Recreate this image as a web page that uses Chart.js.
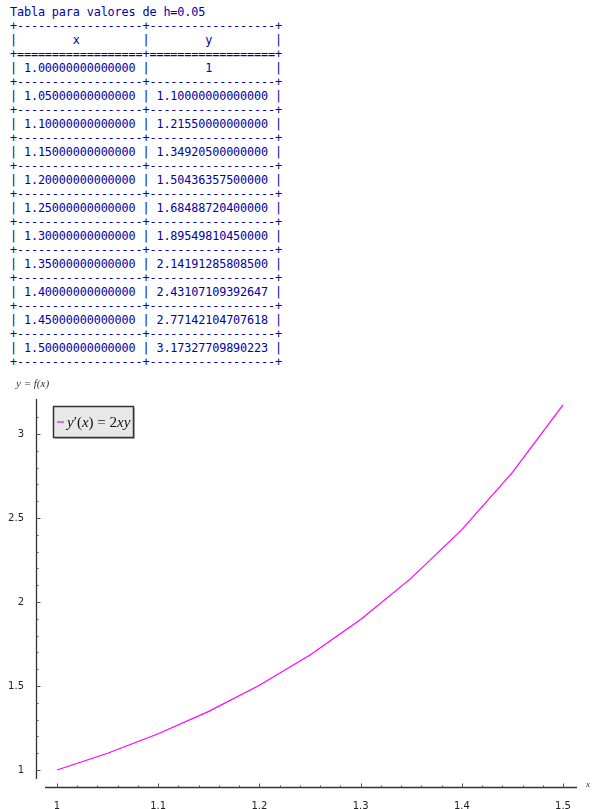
<!DOCTYPE html>
<html>
<head>
<meta charset="utf-8">
<script src="https://cdn.jsdelivr.net/npm/chart.js@4/dist/chart.umd.min.js"></script>
<style>
  html, body { margin: 0; padding: 0; background: #fff; }
  body { width: 603px; height: 809px; position: relative; overflow: hidden; }
  #tabla {
    position: absolute; left: 10px; top: 5px; margin: 0;
    font-family: "DejaVu Sans Mono", monospace; font-size: 11.8px; line-height: 14px;
    letter-spacing: -0.13px;
    color: #0000aa;
  }
  #wrap { position: absolute; left: 0; top: 375px; width: 603px; height: 434px; }
</style>
</head>
<body>
<pre id="tabla"></pre>
<div id="wrap"><canvas id="grafico"></canvas></div>
<script>
// valores de la tabla (h = 0.05)
const titulo = "Tabla para valores de h=0.05";
const xTexto = ["1.00000000000000", "1.05000000000000", "1.10000000000000", "1.15000000000000",
  "1.20000000000000", "1.25000000000000", "1.30000000000000", "1.35000000000000",
  "1.40000000000000", "1.45000000000000", "1.50000000000000"];
const yTexto = ["1", "1.10000000000000", "1.21550000000000", "1.34920500000000",
  "1.50436357500000", "1.68488720400000", "1.89549810450000", "2.14191285808500",
  "2.43107109392647", "2.77142104707618", "3.17327709890223"];

const xTicks = [1, 1.1, 1.2, 1.3, 1.4, 1.5];
const yTicks = [1, 1.5, 2, 2.5, 3];
const leyenda = "y'(x) = 2xy";

// --- tabla de texto ---
function centrar(s, n) {
  const izq = Math.floor((n - s.length) / 2);
  return " ".repeat(izq) + s + " ".repeat(n - s.length - izq);
}
const borde = "+" + "-".repeat(18) + "+" + "-".repeat(18) + "+";
const bordeDoble = "+" + "=".repeat(18) + "+" + "=".repeat(18) + "+";
let lineas = [titulo, borde, "|" + centrar("x", 18) + "|" + centrar("y", 18) + "|", bordeDoble];
for (let i = 0; i < xTexto.length; i++) {
  lineas.push("|" + centrar(xTexto[i], 18) + "|" + centrar(yTexto[i], 18) + "|");
  lineas.push(borde);
}
document.getElementById("tabla").textContent = lineas.join("\n");

// --- grafico ---
const puntos = xTexto.map((x, i) => ({ x: parseFloat(x), y: parseFloat(yTexto[i]) }));

const ejesSage = {
  id: "ejesSage",
  afterDraw(chart) {
    const { ctx, chartArea: a, scales } = chart;
    const sx = scales.x, sy = scales.y;
    const ax = a.left + 0.5, ay = Math.round(a.bottom) - 0.5;
    ctx.save();
    ctx.strokeStyle = "#333";
    ctx.lineWidth = 1.3;
    ctx.beginPath();
    ctx.moveTo(ax, a.top); ctx.lineTo(ax, a.bottom - 9);
    ctx.moveTo(a.left + 9, ay); ctx.lineTo(a.right, ay);
    ctx.stroke();

    ctx.lineWidth = 1;
    ctx.strokeStyle = "#555";
    ctx.beginPath();
    // y: mayores y menores
    for (let k = 0; k <= 22; k++) {
      const v = 1 + (k - 1) * 0.1;
      const p = Math.round(sy.getPixelForValue(v)) + 0.5;
      if (p < a.top || p > a.bottom - 9) continue;
      const mayor = yTicks.some(t => Math.abs(t - v) < 1e-6);
      ctx.moveTo(ax, p); ctx.lineTo(ax + (mayor ? 4 : 2), p);
    }
    // x: mayores y menores
    for (let k = 0; k <= 26; k++) {
      const v = 1 + k * 0.02;
      const p = Math.round(sx.getPixelForValue(v)) + 0.5;
      if (p > a.right) continue;
      const mayor = xTicks.some(t => Math.abs(t - v) < 1e-6);
      ctx.moveTo(p, ay); ctx.lineTo(p, ay - (mayor ? 4 : 2));
    }
    ctx.stroke();

    // etiquetas de los ejes
    ctx.fillStyle = "#333";
    ctx.font = "italic 11px 'Liberation Serif', serif";
    ctx.textBaseline = "middle";
    ctx.fillText("y = f(x)", 16, a.top - 15);
    ctx.font = "italic 9px 'Liberation Serif', serif";
    ctx.fillText("x", a.right + 9, ay - 3);

    // leyenda
    const lx = a.left + 17, ly = a.top + 7;
    ctx.fillStyle = "rgba(0,0,0,0.25)";
    ctx.fillRect(lx + 2, ly + 2, 80, 31);
    ctx.fillStyle = "#e8e8e8";
    ctx.fillRect(lx, ly, 80, 31);
    ctx.strokeStyle = "#333";
    ctx.lineWidth = 1.5;
    ctx.strokeRect(lx + 0.5, ly + 0.5, 80, 31);
    ctx.strokeStyle = "#ff00ff";
    ctx.lineWidth = 1.2;
    ctx.beginPath();
    ctx.moveTo(lx + 4, ly + 16); ctx.lineTo(lx + 11, ly + 16);
    ctx.stroke();
    ctx.fillStyle = "#111";
    ctx.textBaseline = "alphabetic";
    const partes = [["y", true], ["\u2032(", false], ["x", true], [") = 2", false], ["xy", true]];
    let px = lx + 14;
    for (const [t, it] of partes) {
      ctx.font = (it ? "italic " : "") + "15px 'Liberation Serif', serif";
      ctx.fillText(t, px, ly + 21);
      px += ctx.measureText(t).width;
    }
    ctx.restore();
  }
};

new Chart(document.getElementById("grafico"), {
  type: "scatter",
  data: {
    datasets: [{
      label: leyenda,
      data: puntos,
      showLine: true,
      borderColor: "#ff00ff",
      borderWidth: 1.2,
      pointRadius: 0,
      fill: false,
      tension: 0
    }]
  },
  options: {
    responsive: true,
    maintainAspectRatio: false,
    animation: false,
    layout: { padding: { left: 0, top: 24, right: 26, bottom: 0 } },
    plugins: { legend: { display: false }, tooltip: { enabled: false } },
    scales: {
      x: {
        type: "linear",
        min: 0.97925,
        max: 1.5138,
        grid: { display: false },
        border: { display: false },
        afterBuildTicks: s => { s.ticks = xTicks.map(v => ({ value: v })); },
        afterFit: s => { s.height = 21; },
        ticks: {
          padding: 4,
          color: "#222",
          font: { family: "'DejaVu Sans', sans-serif", size: 10 },
          callback: v => String(+v.toFixed(2))
        }
      },
      y: {
        type: "linear",
        min: 0.8929,
        max: 3.2083,
        grid: { display: false },
        border: { display: false },
        afterBuildTicks: s => { s.ticks = yTicks.map(v => ({ value: v })); },
        afterFit: s => { s.width = 36; },
        ticks: {
          padding: 4,
          color: "#222",
          font: { family: "'DejaVu Sans', sans-serif", size: 10 },
          callback: v => String(+v.toFixed(2))
        }
      }
    }
  },
  plugins: [ejesSage]
});
</script>
</body>
</html>
